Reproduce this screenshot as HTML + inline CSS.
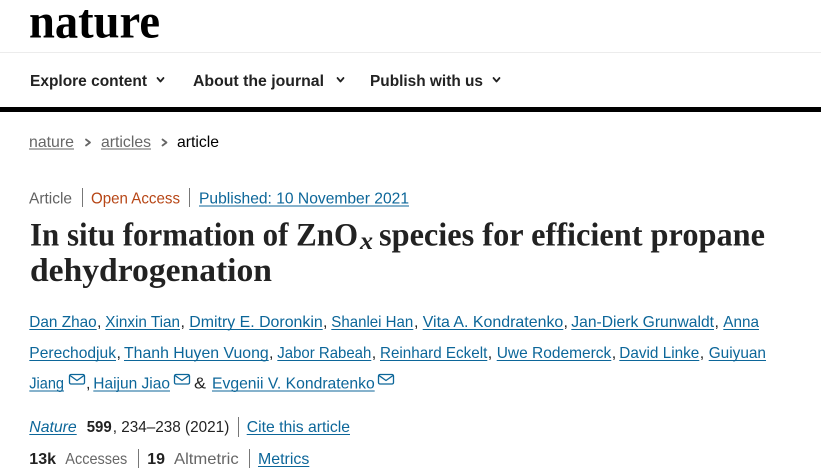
<!DOCTYPE html>
<html><head><meta charset="utf-8">
<style>
html,body{margin:0;padding:0;background:#fff;width:821px;height:476px;overflow:hidden}
svg{display:block}
.s{font-family:"Liberation Sans",sans-serif;font-size:16px}
.b{font-weight:bold}
.blue{fill:#0c6699}
.gray{fill:#666}
.dark{fill:#222}
</style></head><body>
<svg width="821" height="476" viewBox="0 0 821 476" xmlns="http://www.w3.org/2000/svg">
<!-- logo -->
<text x="29" y="37.5" font-family="Liberation Serif, serif" font-weight="bold" font-size="49" fill="#000" textLength="131" lengthAdjust="spacingAndGlyphs">nature</text>
<rect x="0" y="52" width="821" height="1" fill="#ececec"/>

<!-- nav -->
<text class="s b dark" x="30" y="86" textLength="117" lengthAdjust="spacingAndGlyphs">Explore content</text>
<text class="s b dark" x="193" y="86" textLength="131" lengthAdjust="spacingAndGlyphs">About the journal</text>
<text class="s b dark" x="370" y="86" textLength="113" lengthAdjust="spacingAndGlyphs">Publish with us</text>
<g fill="none" stroke="#222" stroke-width="1.8" stroke-linecap="round" stroke-linejoin="round">
<polyline points="157.5,78 160.5,81.5 163.5,78"/>
<polyline points="337.5,78 340.5,81.5 343.5,78"/>
<polyline points="493.5,78 496.5,81.5 499.5,78"/>
</g>
<rect x="0" y="107" width="821" height="5" fill="#000"/>

<!-- breadcrumb -->
<text class="s gray" x="29" y="147" textLength="45" lengthAdjust="spacingAndGlyphs">nature</text>
<rect x="29" y="148.5" width="45" height="1" fill="#666"/>
<text class="s gray" x="101" y="147" textLength="50" lengthAdjust="spacingAndGlyphs">articles</text>
<rect x="101" y="148.5" width="50" height="1" fill="#666"/>
<text class="s" fill="#000" x="177" y="147" textLength="42" lengthAdjust="spacingAndGlyphs">article</text>
<g fill="none" stroke="#666" stroke-width="1.8" stroke-linecap="round" stroke-linejoin="round">
<polyline points="86,139.5 90,142.5 86,145.5"/>
<polyline points="162.5,139.5 166.5,142.5 162.5,145.5"/>
</g>

<!-- article identifiers -->
<text class="s" fill="#626262" x="29" y="203.5" textLength="43" lengthAdjust="spacingAndGlyphs">Article</text>
<rect x="82" y="188" width="1" height="19" fill="#777"/>
<text class="s" fill="#b74616" x="91" y="203.5" textLength="89" lengthAdjust="spacingAndGlyphs">Open Access</text>
<rect x="189" y="188" width="1" height="19" fill="#777"/>
<text class="s blue" x="199" y="203.5" textLength="210" lengthAdjust="spacingAndGlyphs">Published: 10 November 2021</text>
<rect x="199" y="205.5" width="210" height="1" fill="#0c6699"/>

<!-- title -->
<g font-family="Liberation Serif, serif" font-weight="bold" font-size="33" fill="#222">
<text x="30" y="245.5" textLength="328" lengthAdjust="spacingAndGlyphs">In situ formation of ZnO</text>
<text x="379" y="245.5" textLength="386" lengthAdjust="spacingAndGlyphs">species for efficient propane</text>
<text x="30" y="281" textLength="242" lengthAdjust="spacingAndGlyphs">dehydrogenation</text>
</g>
<text x="360" y="249" font-family="Liberation Serif, serif" font-style="italic" font-weight="bold" font-size="25" fill="#222" textLength="13" lengthAdjust="spacingAndGlyphs">x</text>

<!-- authors -->
<g class="s">
<!-- line 1 -->
<text class="blue" x="29.3" y="327" textLength="67.4" lengthAdjust="spacingAndGlyphs">Dan Zhao</text>
<text class="dark" x="97" y="327">,</text>
<text class="blue" x="105.3" y="327" textLength="74.7" lengthAdjust="spacingAndGlyphs">Xinxin Tian</text>
<text class="dark" x="180.5" y="327">,</text>
<text class="blue" x="189.3" y="327" textLength="133.4" lengthAdjust="spacingAndGlyphs">Dmitry E. Doronkin</text>
<text class="dark" x="323" y="327">,</text>
<text class="blue" x="331.3" y="327" textLength="82" lengthAdjust="spacingAndGlyphs">Shanlei Han</text>
<text class="dark" x="414" y="327">,</text>
<text class="blue" x="422.7" y="327" textLength="140.6" lengthAdjust="spacingAndGlyphs">Vita A. Kondratenko</text>
<text class="dark" x="563.5" y="327">,</text>
<text class="blue" x="571.3" y="327" textLength="142.7" lengthAdjust="spacingAndGlyphs">Jan-Dierk Grunwaldt</text>
<text class="dark" x="714.5" y="327">,</text>
<text class="blue" x="723.3" y="327" textLength="35.7" lengthAdjust="spacingAndGlyphs">Anna</text>
<!-- line 2 -->
<text class="blue" x="29.3" y="358" textLength="86.7" lengthAdjust="spacingAndGlyphs">Perechodjuk</text>
<text class="dark" x="116.5" y="358">,</text>
<text class="blue" x="124" y="358" textLength="144.7" lengthAdjust="spacingAndGlyphs">Thanh Huyen Vuong</text>
<text class="dark" x="269" y="358">,</text>
<text class="blue" x="277.3" y="358" textLength="94" lengthAdjust="spacingAndGlyphs">Jabor Rabeah</text>
<text class="dark" x="371.7" y="358">,</text>
<text class="blue" x="380" y="358" textLength="107.3" lengthAdjust="spacingAndGlyphs">Reinhard Eckelt</text>
<text class="dark" x="487.7" y="358">,</text>
<text class="blue" x="496.7" y="358" textLength="114.6" lengthAdjust="spacingAndGlyphs">Uwe Rodemerck</text>
<text class="dark" x="611.7" y="358">,</text>
<text class="blue" x="619.3" y="358" textLength="80" lengthAdjust="spacingAndGlyphs">David Linke</text>
<text class="dark" x="699.7" y="358">,</text>
<text class="blue" x="708.7" y="358" textLength="57.3" lengthAdjust="spacingAndGlyphs">Guiyuan</text>
<!-- line 3 -->
<text class="blue" x="29.3" y="388.5" textLength="34.7" lengthAdjust="spacingAndGlyphs">Jiang</text>
<text class="dark" x="86" y="388.5">,</text>
<text class="blue" x="93.3" y="388.5" textLength="76.7" lengthAdjust="spacingAndGlyphs">Haijun Jiao</text>
<text class="dark" x="194" y="388.5" textLength="12" lengthAdjust="spacingAndGlyphs">&amp;</text>
<text class="blue" x="212" y="388.5" textLength="162.7" lengthAdjust="spacingAndGlyphs">Evgenii V. Kondratenko</text>
</g>
<g fill="#0c6699">
<rect x="29.3" y="329" width="67.4" height="1"/>
<rect x="105.3" y="329" width="74.7" height="1"/>
<rect x="189.3" y="329" width="133.4" height="1"/>
<rect x="331.3" y="329" width="82" height="1"/>
<rect x="422.7" y="329" width="140.6" height="1"/>
<rect x="571.3" y="329" width="142.7" height="1"/>
<rect x="723.3" y="329" width="35.7" height="1"/>
<rect x="29.3" y="360" width="86.7" height="1"/>
<rect x="124" y="360" width="144.7" height="1"/>
<rect x="277.3" y="360" width="94" height="1"/>
<rect x="380" y="360" width="107.3" height="1"/>
<rect x="496.7" y="360" width="114.6" height="1"/>
<rect x="619.3" y="360" width="80" height="1"/>
<rect x="708.7" y="360" width="57.3" height="1"/>
<rect x="29.3" y="390.5" width="34.7" height="1"/>
<rect x="93.3" y="390.5" width="76.7" height="1"/>
<rect x="212" y="390.5" width="162.7" height="1"/>
</g>
<g fill="none" stroke="#0c6699" stroke-width="1.3" stroke-linejoin="round">
<rect x="69.5" y="374.5" width="15" height="9.5" rx="1.5"/>
<polyline points="70,375.5 77,380.5 84,375.5"/>
<rect x="174.5" y="374.5" width="15" height="9.5" rx="1.5"/>
<polyline points="175,375.5 182,380.5 189,375.5"/>
<rect x="378.5" y="374.5" width="15" height="9.5" rx="1.5"/>
<polyline points="379,375.5 386,380.5 393,375.5"/>
</g>

<!-- journal line -->
<text class="s blue" font-style="italic" x="29.3" y="432" textLength="47.4" lengthAdjust="spacingAndGlyphs">Nature</text>
<rect x="29.3" y="434" width="47.4" height="1" fill="#0c6699"/>
<text class="s b dark" x="86.7" y="432" textLength="25" lengthAdjust="spacingAndGlyphs">599</text>
<text class="s dark" x="112.7" y="432" textLength="116.6" lengthAdjust="spacingAndGlyphs">, 234–238 (2021)</text>
<rect x="238" y="417" width="1" height="20" fill="#777"/>
<text class="s blue" x="246.7" y="432" textLength="103.3" lengthAdjust="spacingAndGlyphs">Cite this article</text>
<rect x="246.7" y="434" width="103.3" height="1" fill="#0c6699"/>

<!-- metrics line -->
<text class="s b dark" x="29.3" y="464" textLength="26.7" lengthAdjust="spacingAndGlyphs">13k</text>
<text class="s gray" x="65.3" y="464" textLength="62" lengthAdjust="spacingAndGlyphs">Accesses</text>
<rect x="138" y="449" width="1" height="19" fill="#777"/>
<text class="s b dark" x="147.3" y="464" textLength="17.7" lengthAdjust="spacingAndGlyphs">19</text>
<text class="s gray" x="174" y="464" textLength="64.7" lengthAdjust="spacingAndGlyphs">Altmetric</text>
<rect x="249" y="449" width="1" height="19" fill="#777"/>
<text class="s blue" x="258" y="464" textLength="51.3" lengthAdjust="spacingAndGlyphs">Metrics</text>
<rect x="258" y="466" width="51.3" height="1" fill="#0c6699"/>
</svg>
</body></html>
